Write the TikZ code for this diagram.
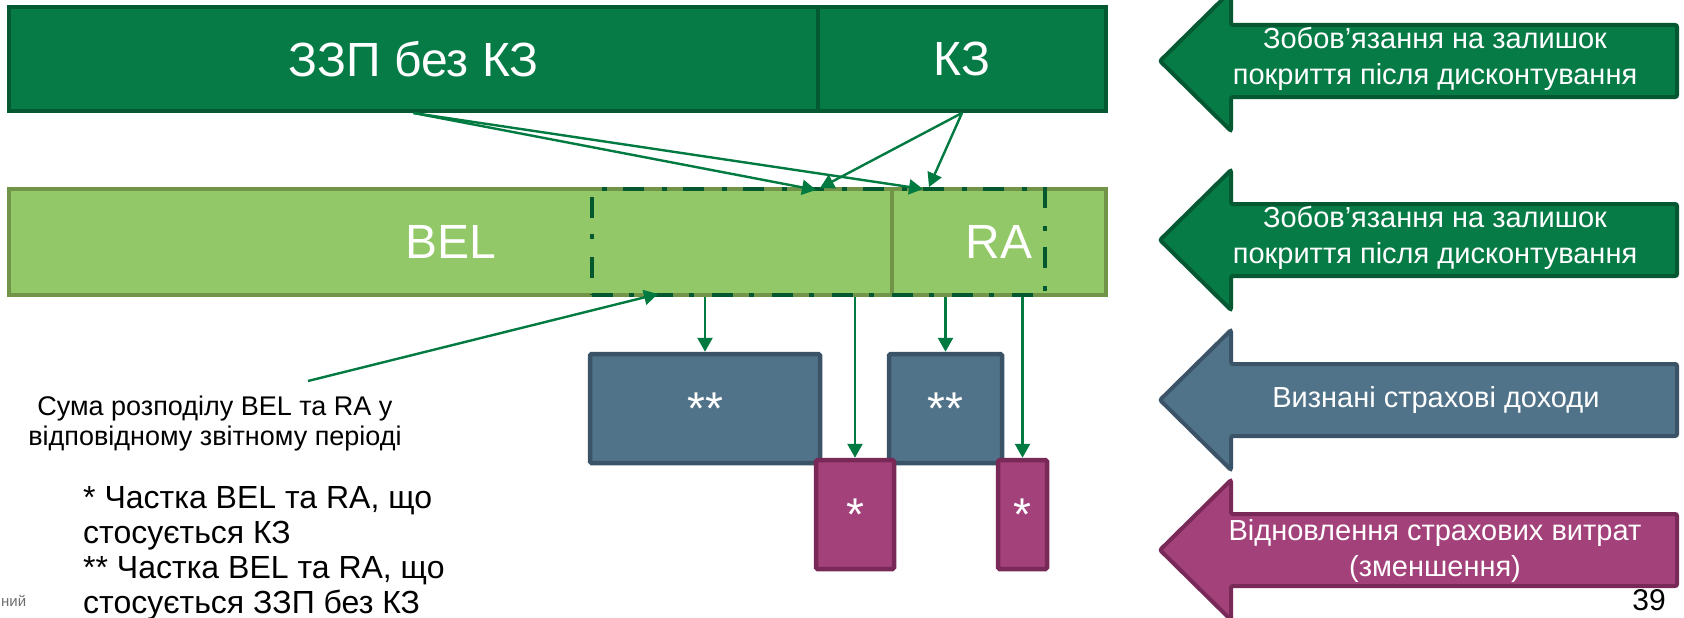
\documentclass[tikz,border=0pt]{standalone}
\usepackage{fontspec}
\setmainfont{Liberation Sans}
\usetikzlibrary{arrows.meta,calc}
\definecolor{topfill}{RGB}{6,123,70}
\definecolor{topdraw}{RGB}{4,88,50}
\definecolor{lightfill}{RGB}{146,200,104}
\definecolor{lightdraw}{RGB}{114,148,72}
\definecolor{dashcol}{RGB}{4,88,48}
\definecolor{conncol}{RGB}{0,122,64}
\definecolor{bluefill}{RGB}{81,115,138}
\definecolor{bluedraw}{RGB}{58,83,102}
\definecolor{magfill}{RGB}{163,65,122}
\definecolor{magdraw}{RGB}{121,41,87}
\definecolor{graytext}{RGB}{110,110,110}
\begin{document}
\begin{tikzpicture}[x=1pt,y=-1pt,
  bar/.style={draw, rectangle, inner sep=0pt, line width=4pt},
  topbar/.style={bar, draw=topdraw, fill=topfill, text=white, font=\fontsize{48}{58}\selectfont},
  lightbar/.style={bar, draw=lightdraw, fill=lightfill, text=white, font=\fontsize{48}{58}\selectfont},
  allocbox/.style={draw=dashcol, rectangle, inner sep=0pt, line width=4.5pt, dash pattern=on 21pt off 16pt on 5pt off 18pt},
  bluebox/.style={bar, line width=4.5pt, rounded corners=1.5pt, draw=bluedraw, fill=bluefill, text=white, font=\fontsize{46}{50}\selectfont},
  magbox/.style={bar, line width=4.5pt, rounded corners=1.5pt, draw=magdraw, fill=magfill, text=white, font=\fontsize{46}{50}\selectfont},
  conn/.style={draw=conncol, line width=2.4pt, -{Triangle[length=14pt,width=15pt]}},
  bigarrow/.style={line width=4pt, rounded corners=2pt},
  arrtext/.style={text=white, align=center, inner sep=0pt, font=\fontsize{29}{36}\selectfont},
  plaintext/.style={text=black, inner sep=0pt}
]
\useasboundingbox (0,0) rectangle (1684,618);

% top bar
\node[topbar, minimum width=809pt, minimum height=104pt] (zzp) at (413.5,59) {ЗЗП без КЗ};
\node[topbar, minimum width=288pt, minimum height=104pt] (kz) at (962,59) {КЗ};

% light bar
\node[lightbar, minimum width=883pt, minimum height=106pt] (bel) at (450.5,242) {BEL};
\node[lightbar, minimum width=214pt, minimum height=106pt] (ra) at (999,242) {RA};

% dashed allocation box
\node[allocbox, minimum width=453pt, minimum height=106pt] (alloc) at (818.5,242) {};

% lower boxes
\node[bluebox, minimum width=230pt, minimum height=109pt] (blue1) at (705,408.5) {**};
\node[bluebox, minimum width=113pt, minimum height=109pt] (blue2) at (945.5,408.5) {**};
\node[magbox, minimum width=78pt, minimum height=109pt] (mag1) at (855,514.5) {*};
\node[magbox, minimum width=49pt, minimum height=109pt] (mag2) at (1022.5,514.5) {*};

% connector end points on the dashed box
\coordinate (a1) at (816,190);
\coordinate (a2) at (923,189);
\coordinate (a3) at (820,188);
\coordinate (a4) at (929,187);
\coordinate (lblpt) at (308,381);
\coordinate (lbltip) at (658,294);

\draw[conn] (zzp.south) -- (a1);
\draw[conn] (zzp.south) -- (a2);
\draw[conn] (kz.south) -- (a3);
\draw[conn] (kz.south) -- (a4);

\draw[conn] (blue1.north |- alloc.south) -- (blue1.north);
\draw[conn] (mag1.north |- alloc.south) -- (mag1.north);
\draw[conn] (blue2.north |- alloc.south) -- (blue2.north);
\draw[conn] (mag2.north |- alloc.south) -- (mag2.north);

% label
\node[plaintext, align=center, font=\fontsize{27}{30}\selectfont] (label) at (215,424)
  {Сума розподілу BEL та RA у\\відповідному звітному періоді};
\draw[conn] (lblpt) -- (lbltip);

% footnote
\node[plaintext, align=left, anchor=north west, font=\fontsize{32}{35}\selectfont] (notes) at (83,486)
  {* Частка BEL та RA, що\\стосується КЗ\\** Частка BEL та RA, що\\стосується ЗЗП без КЗ};

% right side arrows
\foreach \c/\fc/\dc in {61/topfill/topdraw, 240/topfill/topdraw, 400/bluefill/bluedraw, 550/magfill/magdraw}{
  \draw[bigarrow, fill=\fc, draw=\dc] (1160,\c) -- (1231,\c-70) -- (1231,\c-36) -- (1677,\c-36)
    -- (1677,\c+36) -- (1231,\c+36) -- (1231,\c+70) -- cycle;
}
\node[arrtext] (t1) at (1435,59) {Зобов’язання на залишок\\покриття після дисконтування};
\node[arrtext] (t2) at (1435,238) {Зобов’язання на залишок\\покриття після дисконтування};
\node[arrtext] (t3) at (1436,400) {Визнані страхові доходи};
\node[arrtext] (t4) at (1435,551) {Відновлення страхових витрат\\(зменшення)};

% page number and footer text
\node[plaintext, font=\fontsize{30}{32}\selectfont] (pg) at (1649,600) {39};
\node[plaintext, text=graytext, anchor=west, font=\fontsize{15}{17}\selectfont] (foot) at (1,601) {ний};
\end{tikzpicture}
\end{document}
